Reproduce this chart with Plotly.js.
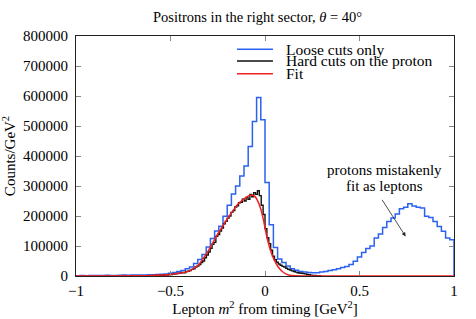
<!DOCTYPE html>
<html>
<head>
<meta charset="utf-8">
<script src="https://cdn.plot.ly/plotly-3.0.1.min.js"></script>
<style>html,body{margin:0;padding:0;background:#fff;}#chart{width:476px;height:319px;}</style>
</head>
<body>
<div id="chart"></div>
<script>
// Loose cuts only: 90 bins from -1 to 1
const looseStart = -1;
const looseWidth = 2 / 90;
const looseCounts = [
  1000,1500,1000,2000,1500,2000,1500,2500,2000,2000,
  2500,3000,2500,3000,3500,3000,3500,4000,4000,5000,
  6000,7000,9000,12000,15000,18000,24000,30000,42000,55000,
  72000,97000,125000,150000,166000,199000,236000,273000,300000,333000,
  367000,432000,515000,595000,521000,312000,171000,95000,57000,45000,
  33000,24000,19000,15000,13000,12000,11000,11000,13000,15000,
  18000,21000,24000,28000,32000,38000,49000,63000,78000,92000,
  100000,127000,140000,162000,182000,193000,207000,224000,229000,241000,
  233000,229000,227000,199000,195000,182000,165000,149000,127000,121000
];

// Hard cuts on the proton: 0.01-wide bins from -0.6 to 0.3
const hardStart = -0.6;
const hardWidth = 0.01;
const hardCounts = [
  1000,2000,1000,3000,2000,
  3000,2000,4000,3000,5000,
  5000,6000,7000,8000,9000,
  10000,12000,11000,15000,16000,
  18000,22000,24000,30000,33000,
  38000,45000,50000,61000,70000,
  80000,92000,106000,112000,132000,
  138000,150000,160000,174000,182000,
  193000,200000,212000,218000,230000,
  234000,244000,246000,256000,250000,
  262000,256000,272000,264000,278000,
  272000,284000,268000,236000,205000,
  158000,128000,108000,86000,66000,
  54000,46000,40000,36000,32000,
  30000,26000,22000,20000,17000,
  15000,13000,11000,10000,9000,
  8000,7000,5000,4000,3000,
  2000,2000,1000,1000,0
];

// Fit curve (read points)
const fitX = [-1,-0.7,-0.6,-0.55,-0.5,-0.45,-0.4,-0.375,-0.35,-0.325,-0.3,-0.275,-0.25,-0.225,-0.2,-0.175,-0.15,-0.125,-0.1,-0.085,-0.07,-0.055,-0.04,-0.025,-0.01,0.005,0.02,0.035,0.05,0.07,0.09,0.11,0.13,0.16,0.2,0.4,0.7,1];
const fitY = [0,500,1500,3000,5000,9000,17000,26000,38000,60000,84000,112000,140000,165000,190000,213000,235000,250000,262000,268000,270000,266000,252000,228000,192000,145000,105000,74000,52000,30000,16000,7000,2500,500,0,0,0,0];

const legendNames = ["Loose cuts only", "Hard cuts on the proton", "Fit"];
const colors = ["#2b62f0", "#111111", "#f02020"];

function stepLine(start, width, counts) {
  const xs = [start], ys = [0];
  for (let i = 0; i < counts.length; i++) { xs.push(start + i * width); ys.push(counts[i]); }
  const end = start + counts.length * width;
  xs.push(end); ys.push(counts[counts.length - 1]);
  xs.push(end); ys.push(0);
  return {xs, ys};
}

const b = stepLine(looseStart, looseWidth, looseCounts);
const h = stepLine(hardStart, hardWidth, hardCounts);

const FONT = "Liberation Serif, Times New Roman, serif";

const traces = [
  {x: b.xs, y: b.ys, mode: "lines", line: {shape: "hv", color: colors[0], width: 1.5}, name: legendNames[0], showlegend: false, hoverinfo: "skip"},
  {x: h.xs, y: h.ys, mode: "lines", line: {shape: "hv", color: colors[1], width: 1.4}, name: legendNames[1], showlegend: false, hoverinfo: "skip"},
  {x: fitX, y: fitY, mode: "lines", line: {shape: "spline", smoothing: 0.8, color: colors[2], width: 1.5}, name: legendNames[2], showlegend: false, hoverinfo: "skip"}
];

// custom legend positions (paper coords)
const legY = [0.945, 0.896, 0.843];
const shapes = [];
const annotations = [];
for (let i = 0; i < 3; i++) {
  shapes.push({type: "line", xref: "paper", yref: "paper", x0: 0.426, x1: 0.521, y0: legY[i], y1: legY[i], line: {color: colors[i], width: 1.5}});
  annotations.push({xref: "paper", yref: "paper", x: 0.551, y: legY[i], xanchor: "left", yanchor: "middle", text: legendNames[i], showarrow: false, font: {family: FONT, size: 15.5, color: "#000"}});
}
annotations.push({x: 0.63, y: 354000, text: "protons mistakenly", showarrow: false, xanchor: "center", yanchor: "middle", font: {family: FONT, size: 15, color: "#000"}});
annotations.push({x: 0.63, y: 301000, text: "fit as leptons", showarrow: false, xanchor: "center", yanchor: "middle", font: {family: FONT, size: 15, color: "#000"}});
annotations.push({x: 0.744, y: 132000, ax: -27, ay: -42, text: " ", showarrow: true, arrowhead: 2, arrowsize: 1, arrowwidth: 0.8, arrowcolor: "#222", standoff: 0, startstandoff: 0});

const axisCommon = {
  showgrid: false, zeroline: false, showline: true, linecolor: "#222", linewidth: 1,
  mirror: "ticks", ticks: "inside", ticklen: 5, tickcolor: "#888", tickwidth: 1,
  tickfont: {family: FONT, size: 15, color: "#000"}
};

const layout = {
  width: 476, height: 319,
  margin: {l: 76, r: 22, t: 36, b: 43},
  paper_bgcolor: "#fff", plot_bgcolor: "#fff",
  font: {family: FONT, size: 14, color: "#000"},
  title: {text: "Positrons in the right sector, <i>θ</i> = 40°", x: 0.541, xanchor: "center", y: 0.947, yanchor: "middle", font: {family: FONT, size: 14.5, color: "#000"}},
  xaxis: Object.assign({}, axisCommon, {range: [-1, 1], tickvals: [-1, -0.5, 0, 0.5, 1], ticklabelstandoff: 1,
    title: {text: "Lepton <i>m</i><sup>2</sup> from timing [GeV<sup>2</sup>]", standoff: 5, font: {family: FONT, size: 15, color: "#000"}}}),
  yaxis: Object.assign({}, axisCommon, {range: [0, 800000], dtick: 100000, tickformat: "d", ticklabelstandoff: 4,
    title: {text: "Counts/GeV<sup>2</sup>", standoff: 3, font: {family: FONT, size: 15, color: "#000"}}}),
  shapes: shapes,
  annotations: annotations,
  showlegend: false
};

Plotly.newPlot("chart", traces, layout, {displayModeBar: false, staticPlot: true});
</script>
</body>
</html>
